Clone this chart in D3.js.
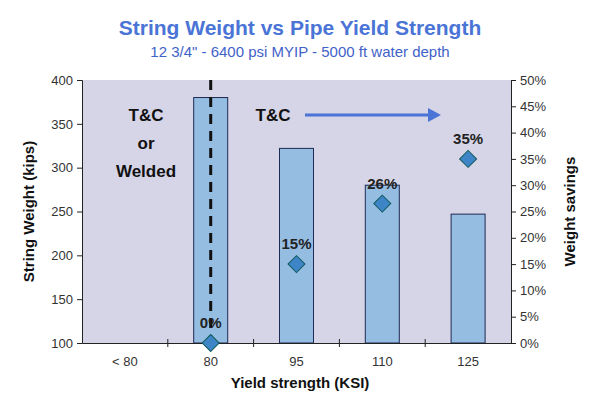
<!DOCTYPE html>
<html><head><meta charset="utf-8">
<script src="https://cdn.jsdelivr.net/npm/d3@7"></script>
<style>body{margin:0;background:#fff;font-family:Arial,"Liberation Sans",sans-serif}</style>
</head><body>
<script>
// chart data
var categories = ["< 80", "80", "95", "110", "125"];
var weights = [null, 380, 322, 280, 247];
var savings = [null, 0, 15, 26.5, 35];
var savingLabels = [null, "0%", "15%", "26%", "35%"];
var leftTicks = [100, 150, 200, 250, 300, 350, 400];
var rightTicks = [0, 5, 10, 15, 20, 25, 30, 35, 40, 45, 50];

(function(){
var width = 600, height = 418,
    pLeft = 82, pRight = 511, pTop = 80, pBottom = 343;

var svg = d3.select("body").append("svg")
    .attr("width", width).attr("height", height);

var x = d3.scaleBand().domain(categories).range([pLeft, pRight]);
var y = d3.scaleLinear().domain([100, 400]).range([pBottom, pTop]);
var y2 = d3.scaleLinear().domain([0, 50]).range([pBottom, pTop]);

//titles
svg.append("text").attr("x", 300).attr("y", 35).attr("text-anchor", "middle")
    .attr("font-size", 21).attr("font-weight", "bold").attr("fill", "#4a74d6")
    .text("String Weight vs Pipe Yield Strength");
svg.append("text").attr("x", 300).attr("y", 57).attr("text-anchor", "middle")
    .attr("font-size", 15).attr("fill", "#3f62c8")
    .text("12 3/4\" - 6400 psi MYIP - 5000 ft water depth");

//plot background
svg.append("rect").attr("x", pLeft).attr("y", pTop)
    .attr("width", pRight - pLeft).attr("height", pBottom - pTop).attr("fill", "#d5d5e7");

//bars
var bw = 34;
svg.selectAll(".bar").data(categories.filter(function(c, i){ return weights[i] != null; }))
    .enter().append("rect")
    .attr("x", function(d){ return x(d) + x.bandwidth() / 2 - bw / 2; })
    .attr("y", function(d){ return y(weights[categories.indexOf(d)]); })
    .attr("width", bw)
    .attr("height", function(d){ return pBottom - y(weights[categories.indexOf(d)]); })
    .attr("fill", "#95bde2").attr("stroke", "#1f2a55").attr("stroke-width", 1);

//dashed divider
var cx80 = x("80") + x.bandwidth() / 2;
svg.append("line").attr("x1", cx80).attr("x2", cx80).attr("y1", pTop).attr("y2", pBottom)
    .attr("stroke", "#111").attr("stroke-width", 3).attr("stroke-dasharray", "10,7");

//axes
svg.append("g").attr("transform", "translate(" + pLeft + ",0)")
    .call(d3.axisLeft(y).tickValues(leftTicks).tickSize(5).tickPadding(4));
svg.append("g").attr("transform", "translate(" + pRight + ",0)")
    .call(d3.axisRight(y2).tickValues(rightTicks).tickSize(5).tickPadding(4)
        .tickFormat(function(d){ return d + "%"; }));
svg.append("g").attr("transform", "translate(0," + pBottom + ")")
    .call(d3.axisBottom(x).tickSize(0).tickPadding(14));
svg.selectAll("g.tick text").attr("font-size", 13).attr("fill", "#333")
    .attr("font-family", "Arial,'Liberation Sans',sans-serif");
svg.selectAll(".domain").attr("stroke", "#222");
svg.selectAll(".tick line").attr("stroke", "#222");
//category separators on x axis
categories.slice(1).forEach(function(c){
    svg.append("line").attr("x1", x(c)).attr("x2", x(c)).attr("y1", pBottom - 4).attr("y2", pBottom + 4)
        .attr("stroke", "#222");
});

//axis titles
svg.append("text").attr("x", 300).attr("y", 388).attr("text-anchor", "middle")
    .attr("font-size", 15).attr("font-weight", "bold").attr("fill", "#111").text("Yield strength (KSI)");
svg.append("text").attr("transform", "translate(34," + ((pTop + pBottom) / 2) + ") rotate(-90)")
    .attr("text-anchor", "middle").attr("font-size", 15).attr("font-weight", "bold")
    .attr("fill", "#111").text("String Weight (kips)");
svg.append("text").attr("transform", "translate(575," + ((pTop + pBottom) / 2) + ") rotate(-90)")
    .attr("text-anchor", "middle").attr("font-size", 15).attr("font-weight", "bold")
    .attr("fill", "#111").text("Weight savings");

//diamonds
categories.forEach(function(c, i){
    if (savings[i] == null) return;
    var cx = x(c) + x.bandwidth() / 2, cy = y2(savings[i]);
    svg.append("rect").attr("x", -6).attr("y", -6).attr("width", 12).attr("height", 12)
        .attr("transform", "translate(" + cx + "," + cy + ") rotate(45)")
        .attr("fill", "#3d85c6").attr("stroke", "#0f5a5a").attr("stroke-width", 1);
    svg.append("text").attr("x", cx).attr("y", cy - 15).attr("text-anchor", "middle")
        .attr("font-size", 15).attr("font-weight", "bold").attr("fill", "#222")
        .text(savingLabels[i]);
});

//annotations
var ann = svg.append("g").attr("font-size", 17).attr("font-weight", "bold")
    .attr("fill", "#111").attr("text-anchor", "middle");
ann.append("text").attr("x", 146).attr("y", 121).text("T&C");
ann.append("text").attr("x", 146).attr("y", 149).text("or");
ann.append("text").attr("x", 146).attr("y", 177).text("Welded");
ann.append("text").attr("x", 273).attr("y", 121).text("T&C");
svg.append("line").attr("x1", 305).attr("x2", 430).attr("y1", 115).attr("y2", 115)
    .attr("stroke", "#4a74d6").attr("stroke-width", 3);
svg.append("path").attr("d", "M428,108 L441,115 L428,122 Z").attr("fill", "#4a74d6");
})();
</script>
</body></html>
